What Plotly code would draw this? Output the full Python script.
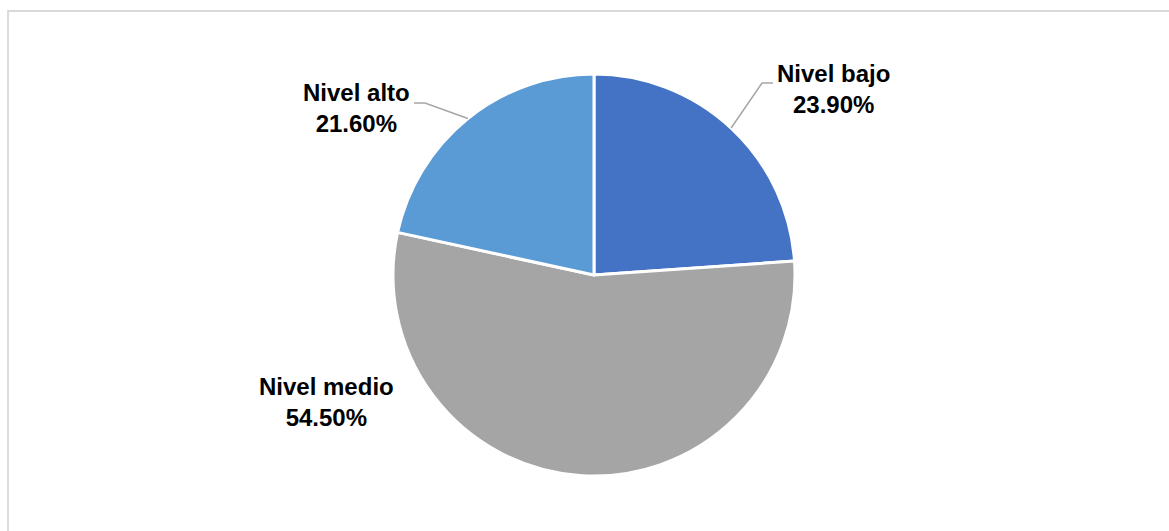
import math
import plotly.graph_objects as go

# Distribution of levels
labels = ["Nivel bajo", "Nivel medio", "Nivel alto"]
values = [23.90, 54.50, 21.60]
colors = ["#4472C4", "#A5A5A5", "#5B9BD5"]

W, H = 1169, 531

# Pie geometry in pixels (centre and radius)
CX, CY, R = 594, 275, 201

# Label block centres (pixels) and whether a leader line is drawn
label_pos = {
    "Nivel bajo": (833, 89, True),
    "Nivel medio": (326, 402, False),
    "Nivel alto": (356, 108, True),
}
# Elbow of each leader line (pixels): start of the short horizontal run
leader_elbow = {
    "Nivel bajo": ((762, 83), (773, 83)),
    "Nivel alto": ((425, 103), (414, 103)),
}


def px(x, y):
    return x / W, 1 - y / H


fig = go.Figure(
    go.Pie(
        labels=labels,
        values=values,
        sort=False,
        direction="clockwise",
        rotation=0,
        marker=dict(colors=colors, line=dict(color="white", width=3)),
        textinfo="none",
        hoverinfo="label+percent",
        showlegend=False,
        domain=dict(
            x=[(CX - R) / W, (CX + R) / W],
            y=[1 - (CY + R) / H, 1 - (CY - R) / H],
        ),
    )
)

annotations = []
shapes = [
    # light frame around the chart area
    dict(
        type="rect", xref="paper", yref="paper",
        x0=8 / W, x1=1.02, y0=-0.02, y1=1 - 11 / H,
        line=dict(color="#D9D9D9", width=1.8), fillcolor="rgba(0,0,0,0)",
        layer="below",
    )
]

total = sum(values)
cum = 0.0
for lab, val in zip(labels, values):
    mid = (cum + val / 2) / total * 2 * math.pi
    cum += val
    lx, ly, lead = label_pos[lab]
    ax, ay = px(lx, ly)
    annotations.append(
        dict(
            x=ax, y=ay, xref="paper", yref="paper",
            text=f"<b>{lab}<br>{val:.2f}%</b>",
            showarrow=False, align="center",
            font=dict(family="Liberation Sans, Arial, sans-serif", size=24, color="#000000"),
            xanchor="center", yanchor="middle",
        )
    )
    if lead:
        # leader starts on the slice edge at its mid-angle
        sx = CX + R * math.sin(mid)
        sy = CY - R * math.cos(mid)
        (ex, ey), (fx, fy) = leader_elbow[lab]
        pts = [px(sx, sy), px(ex, ey), px(fx, fy)]
        path = "M {} {} L {} {} L {} {}".format(
            pts[0][0], pts[0][1], pts[1][0], pts[1][1], pts[2][0], pts[2][1]
        )
        shapes.append(
            dict(type="path", xref="paper", yref="paper", path=path,
                 line=dict(color="#A6A6A6", width=1.5))
        )

fig.update_layout(
    width=W, height=H,
    margin=dict(l=0, r=0, t=0, b=0),
    paper_bgcolor="white", plot_bgcolor="white",
    annotations=annotations,
    shapes=shapes,
)

fig.write_html("out.html")
